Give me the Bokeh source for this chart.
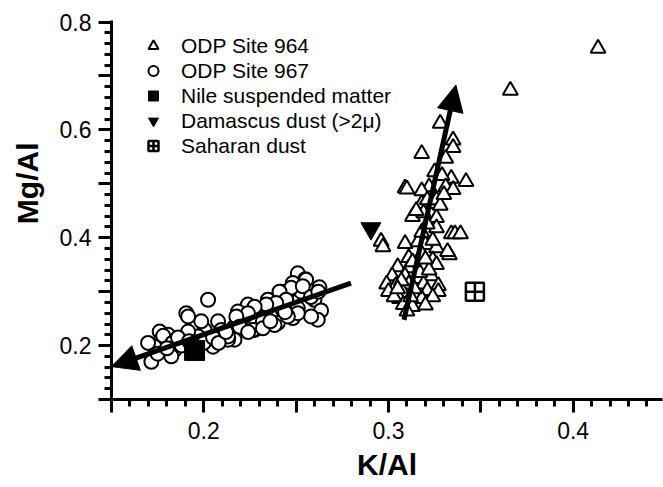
from bokeh.plotting import figure
from bokeh.models import (FixedTicker, CustomJSTickFormatter, Arrow, NormalHead,
                          Legend, LegendItem, Range1d, Title)
from bokeh.embed import file_html
from bokeh.resources import INLINE

# ---------------- data ----------------
# ODP Site 967 (circles)
x967 = [0.2509, 0.2549, 0.2626, 0.2482, 0.2419, 0.2383, 0.2464, 0.2527, 0.2599, 0.2635,
        0.2617, 0.2509, 0.2482, 0.2428, 0.2401, 0.2347, 0.2329, 0.2284, 0.2275, 0.2239,
        0.2221, 0.2185, 0.2166, 0.2166, 0.2131, 0.2077, 0.2095, 0.2050, 0.2023, 0.2004,
        0.1969, 0.1986, 0.1905, 0.1915, 0.1861, 0.1842, 0.1761, 0.1770, 0.1734, 0.1698,
        0.1716, 0.1806, 0.1824, 0.1915, 0.2554, 0.2473, 0.2410, 0.2536, 0.2446, 0.2392,
        0.2338, 0.2275, 0.2239, 0.2176, 0.2581, 0.2509, 0.2455, 0.2383, 0.2320, 0.2266,
        0.2194, 0.2131, 0.178, 0.183, 0.188, 0.175, 0.180, 0.186, 0.192, 0.196,
        0.200, 0.205, 0.208, 0.212, 0.224, 0.232, 0.236, 0.244, 0.258, 0.262]
y967 = [0.334, 0.323, 0.308, 0.316, 0.300, 0.285, 0.303, 0.300, 0.285, 0.265,
        0.248, 0.269, 0.251, 0.266, 0.242, 0.285, 0.260, 0.269, 0.229, 0.276,
        0.254, 0.263, 0.235, 0.211, 0.211, 0.245, 0.229, 0.198, 0.285, 0.229,
        0.217, 0.245, 0.260, 0.226, 0.211, 0.192, 0.226, 0.211, 0.198, 0.205,
        0.170, 0.220, 0.180, 0.254, 0.322, 0.307, 0.300, 0.310, 0.285, 0.279,
        0.276, 0.272, 0.260, 0.254, 0.254, 0.260, 0.254, 0.238, 0.245, 0.229,
        0.235, 0.217, 0.218, 0.205, 0.200, 0.185, 0.195, 0.215, 0.208, 0.196,
        0.205, 0.215, 0.205, 0.225, 0.225, 0.232, 0.245, 0.262, 0.290, 0.300]

# ODP Site 964 (triangles)
x964 = [0.328, 0.335, 0.335, 0.318, 0.331, 0.334, 0.342, 0.309, 0.310, 0.325,
        0.329, 0.322, 0.318, 0.331, 0.335, 0.318, 0.324, 0.313, 0.319, 0.326,
        0.321, 0.326, 0.326, 0.296, 0.297, 0.334, 0.336, 0.339, 0.333, 0.309,
        0.316, 0.320, 0.326, 0.311, 0.318, 0.324, 0.305, 0.311, 0.319, 0.326,
        0.302, 0.309, 0.316, 0.323, 0.299, 0.304, 0.311, 0.319, 0.327, 0.300,
        0.308, 0.315, 0.321, 0.327, 0.306, 0.311, 0.318, 0.308, 0.313, 0.310,
        0.332, 0.366, 0.4135, 0.314, 0.317, 0.322, 0.313, 0.307, 0.320, 0.324,
        0.318, 0.321, 0.315, 0.328, 0.330, 0.303, 0.312, 0.324, 0.320, 0.305]
y964 = [0.612, 0.581, 0.567, 0.556, 0.547, 0.510, 0.504, 0.492, 0.490, 0.522,
        0.515, 0.494, 0.487, 0.494, 0.489, 0.463, 0.463, 0.439, 0.446, 0.437,
        0.470, 0.470, 0.418, 0.393, 0.383, 0.407, 0.407, 0.407, 0.368, 0.389,
        0.392, 0.387, 0.381, 0.363, 0.370, 0.359, 0.346, 0.344, 0.346, 0.350,
        0.329, 0.329, 0.324, 0.329, 0.314, 0.311, 0.314, 0.314, 0.311, 0.300,
        0.298, 0.296, 0.302, 0.300, 0.287, 0.281, 0.287, 0.276, 0.272, 0.264,
        0.374, 0.673, 0.751, 0.305, 0.335, 0.340, 0.355, 0.320, 0.360, 0.395,
        0.410, 0.425, 0.450, 0.460, 0.480, 0.290, 0.290, 0.290, 0.275, 0.305]

# end members
nile_x, nile_y = [0.195], [0.191]
damascus_x, damascus_y = [0.2905], [0.417]
sahara_x, sahara_y = [0.3468], [0.2996]

# trend arrows (start -> end)
arrow967_start, arrow967_end = [0.2797, 0.3158], [0.150, 0.161]
arrow964_start, arrow964_end = [0.3084, 0.2477], [0.3365, 0.6830]

legend_labels = ["ODP Site 964", "ODP Site 967", "Nile suspended matter",
                 "Damascus dust (>2\u03bc)", "Saharan dust"]
x_title, y_title = "K/Al", "Mg/Al"

FONT = "Liberation Sans"

# ---------------- figure ----------------
p = figure(width=663, height=487, output_backend="svg", toolbar_location=None,
           x_range=Range1d(0.15, 0.4484), y_range=Range1d(0.1, 0.8028),
           min_border_left=110, min_border_right=1, min_border_top=20,
           min_border_bottom=88)
p.outline_line_color = None
p.grid.visible = False
p.background_fill_color = "white"

xt = [round(0.15 + 0.05 * i, 2) for i in range(7)]
xm = [round(0.15 + 0.01 * i, 2) for i in range(31)]
yt = [round(0.1 + 0.1 * i, 1) for i in range(8)]
ym = [round(0.1 + 0.02 * i, 2) for i in range(36)]

p.xaxis.ticker = FixedTicker(ticks=xt, minor_ticks=xm)
p.yaxis.ticker = FixedTicker(ticks=yt, minor_ticks=ym)
p.xaxis.formatter = CustomJSTickFormatter(code="""
    const t = tick*10;
    return (Math.abs(t - Math.round(t)) < 1e-6) ? tick.toFixed(1) : '';
""")
p.yaxis.formatter = CustomJSTickFormatter(code="""
    const t = Math.round(tick*10);
    return (Math.abs(tick*10 - t) < 1e-6 && t % 2 == 0) ? tick.toFixed(1) : '';
""")

for ax in (p.xaxis[0], p.yaxis[0]):
    ax.axis_line_width = 3
    ax.axis_line_color = "black"
    ax.major_tick_line_width = 3
    ax.minor_tick_line_width = 3
    ax.major_tick_line_color = "black"
    ax.minor_tick_line_color = "black"
    ax.major_tick_out = 13
    ax.major_tick_in = 0
    ax.minor_tick_out = 7
    ax.minor_tick_in = 0
    ax.major_label_text_font = FONT
    ax.major_label_text_font_size = "23px"
    ax.major_label_text_color = "black"
p.xaxis.major_label_standoff = 9
p.yaxis.major_label_standoff = 7

p.xaxis.axis_label = x_title
p.xaxis.axis_label_standoff = 6
p.xaxis.axis_label_text_font = FONT
p.xaxis.axis_label_text_font_style = "bold"
p.xaxis.axis_label_text_font_size = "30px"
p.xaxis.axis_label_text_color = "black"

p.add_layout(Title(text=y_title, align="right", offset=122, vertical_align="top",
                   standoff=21, text_font=FONT, text_font_style="bold",
                   text_font_size="30px", text_color="black"), "left")

# ---------------- glyphs ----------------
r967 = p.scatter(x967, y967, marker="circle", size=14, fill_color="white",
                 line_color="black", line_width=2)
r964 = p.scatter(x964, y964, marker="triangle", size=15, fill_color="white",
                 line_color="black", line_width=2)
rnile = p.scatter(nile_x, nile_y, marker="square", size=20, fill_color="black",
                  line_color="black")
rdam = p.scatter(damascus_x, damascus_y, marker="inverted_triangle", size=20,
                 fill_color="black", line_color="black")
rsah = p.scatter(sahara_x, sahara_y, marker="square_cross", size=18,
                 fill_color="white", line_color="black", line_width=2.5)

for s, e in ((arrow967_start, arrow967_end), (arrow964_start, arrow964_end)):
    p.add_layout(Arrow(x_start=s[0], y_start=s[1], x_end=e[0], y_end=e[1],
                       line_width=5, line_color="black",
                       end=NormalHead(size=26, fill_color="black",
                                      line_color="black", line_width=1)))

# ---------------- legend ----------------
legend = Legend(items=[LegendItem(label=l, renderers=[r])
                       for l, r in zip(legend_labels, [r964, r967, rnile, rdam, rsah])],
                location=(27, 241), glyph_width=30, glyph_height=25, spacing=0,
                label_height=25, label_standoff=13, padding=0, margin=0,
                border_line_color=None, background_fill_alpha=0,
                label_text_font=FONT, label_text_font_size="21px",
                label_text_color="black")
p.add_layout(legend)

open("out.html", "w").write(file_html(p, INLINE))
